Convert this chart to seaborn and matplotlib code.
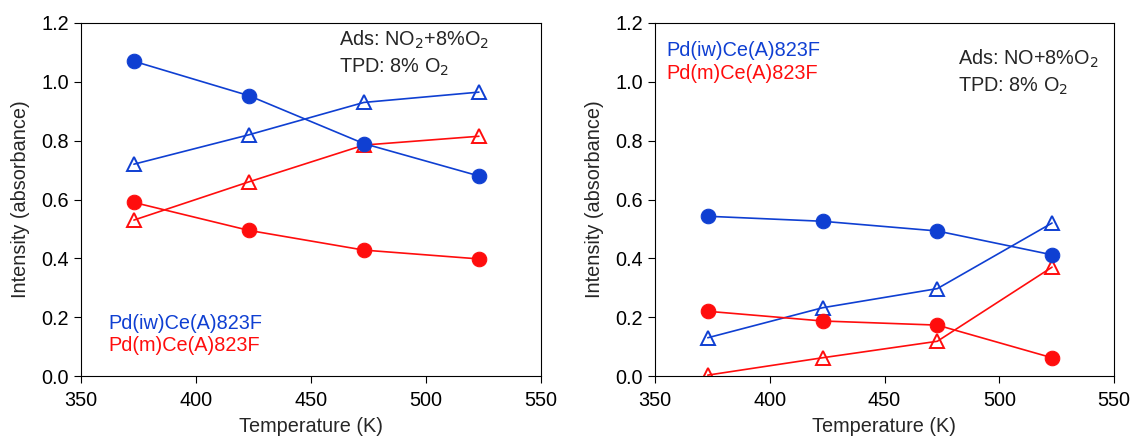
import seaborn as sns
import matplotlib.pyplot as plt
import pandas as pd

sns.set_style('ticks')
plt.rcParams['font.family'] = ['Liberation Sans', 'DejaVu Sans']

# 温度 (K)
temperature = [373, 423, 473, 523]

# 左: Ads NO2+8%O2
left_iw_circle = [1.07, 0.953, 0.79, 0.68]
left_iw_tri = [0.72, 0.82, 0.93, 0.965]
left_m_circle = [0.59, 0.495, 0.428, 0.398]
left_m_tri = [0.53, 0.66, 0.785, 0.815]

# 右: Ads NO+8%O2
right_iw_circle = [0.543, 0.526, 0.493, 0.412]
right_iw_tri = [0.13, 0.232, 0.297, 0.52]
right_m_circle = [0.22, 0.187, 0.173, 0.062]
right_m_tri = [0.003, 0.062, 0.118, 0.37]

blue = '#0F3FD2'
red = '#FF0D0D'
fs = 14.3

fig = plt.figure(figsize=(11.31, 4.37), dpi=100)
ax1 = fig.add_axes([81/1131, 1-376/437, (541-81)/1131, (376-23)/437])
ax2 = fig.add_axes([655/1131, 1-376/437, (1114-655)/1131, (376-23)/437])


def draw(ax, iw_c, iw_t, m_c, m_t):
    df = pd.DataFrame({'T': temperature, 'iw_c': iw_c, 'iw_t': iw_t, 'm_c': m_c, 'm_t': m_t})
    for col, c, mk in [('iw_t', blue, '^'), ('m_t', red, '^'), ('iw_c', blue, 'o'), ('m_c', red, 'o')]:
        if mk == 'o':
            sns.lineplot(x='T', y=col, data=df, color=c, marker='o', markersize=10.5,
                         markeredgecolor=c, lw=1.2, ax=ax)
        else:
            sns.lineplot(x='T', y=col, data=df, color=c, marker='^', markersize=10,
                         markerfacecolor='none', markeredgecolor=c, markeredgewidth=1.4,
                         lw=1.2, ax=ax)
    ax.set_xlim(350, 550)
    ax.set_ylim(0, 1.2)
    ax.set_xticks([350, 400, 450, 500, 550])
    ax.set_yticks([0.0, 0.2, 0.4, 0.6, 0.8, 1.0, 1.2])
    ax.set_yticklabels(['0.0', '0.2', '0.4', '0.6', '0.8', '1.0', '1.2'])
    ax.set_xlabel('Temperature (K)', fontsize=fs, labelpad=5)
    ax.set_ylabel('Intensity (absorbance)', fontsize=fs, labelpad=8)
    ax.tick_params(labelsize=fs, length=5, width=0.8, direction='out', colors='black')
    ax.tick_params(axis='x', pad=6)
    for s in ax.spines.values():
        s.set_linewidth(0.8)
        s.set_color('black')
    leg = ax.get_legend()
    if leg:
        leg.remove()


draw(ax1, left_iw_circle, left_iw_tri, left_m_circle, left_m_tri)
draw(ax2, right_iw_circle, right_iw_tri, right_m_circle, right_m_tri)

# 左のテキスト
ax1.text(0.56, 0.985, 'Ads: NO$_2$+8%O$_2$', transform=ax1.transAxes, fontsize=fs, va='top')
ax1.text(0.56, 0.905, 'TPD: 8% O$_2$', transform=ax1.transAxes, fontsize=fs, va='top')
ax1.text(0.06, 0.175, 'Pd(iw)Ce(A)823F', transform=ax1.transAxes, fontsize=fs, color=blue, va='top')
ax1.text(0.06, 0.112, 'Pd(m)Ce(A)823F', transform=ax1.transAxes, fontsize=fs, color=red, va='top')

# 右のテキスト
ax2.text(0.66, 0.93, 'Ads: NO+8%O$_2$', transform=ax2.transAxes, fontsize=fs, va='top')
ax2.text(0.66, 0.852, 'TPD: 8% O$_2$', transform=ax2.transAxes, fontsize=fs, va='top')
ax2.text(0.025, 0.95, 'Pd(iw)Ce(A)823F', transform=ax2.transAxes, fontsize=fs, color=blue, va='top')
ax2.text(0.025, 0.885, 'Pd(m)Ce(A)823F', transform=ax2.transAxes, fontsize=fs, color=red, va='top')

fig.savefig('out.png', dpi=100)
